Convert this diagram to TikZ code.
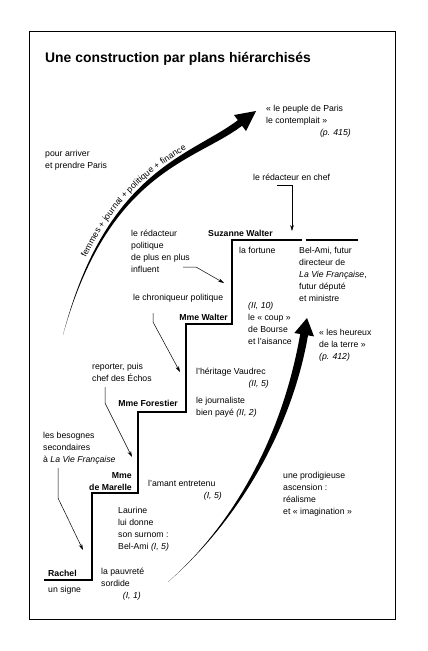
\documentclass[tikz,border=0pt]{standalone}
\usepackage{fontspec}
\setmainfont{Liberation Sans}
\usetikzlibrary{arrows.meta,decorations.text}
\begin{document}
\begin{tikzpicture}[x=1pt,y=-1pt,
  txt/.style={font=\fontsize{8.7}{12.2}\selectfont, inner sep=0pt, align=left, anchor=base west},
  txtr/.style={txt, anchor=base east, align=right},
  txtb/.style={txt, font=\fontsize{8.7}{12.2}\selectfont\bfseries},
  stair/.style={line width=1.2pt, line join=miter},
  conn/.style={line width=0.5pt, -{Stealth[length=6pt,width=3.6pt]}},
  bigarrow/.style={fill=black, draw=none}
]
\fill[white] (0,0) rectangle (428,651);
\useasboundingbox (0,0) rectangle (428,651);
\draw[line width=0.8pt] (29,31) rectangle (395,619);

\node[anchor=base west, inner sep=0pt, font=\fontsize{13.9}{16}\selectfont\bfseries] (title) at (45,62) {Une construction par plans hiérarchisés};

% staircase
\draw[stair] (358,240) -- (306,240);
\draw[stair] (302,240) -- (232,240) -- (232,324) -- (186,324) -- (186,412) -- (138,412) -- (138,493) -- (92,493) -- (92,580) -- (44,580);

% top big arrow
\fill[bigarrow] (63,335) .. controls (105.8,170.4) and (189.9,156.2) .. (237.9,120.2)
  -- (234,115) -- (256,111) -- (246,131) -- (242.1,125.8)
  .. controls (194.1,161.8) and (108.6,171.2) .. (63,335) -- cycle;
\path[decorate, decoration={text along path,
   text={|\fontsize{8.7}{10}\selectfont|femmes + journal + politique + finance},
   text align={left indent=80pt}, raise=5pt}]
  (63,335) .. controls (107.2,170.8) and (192,159) .. (240,123);

% bottom big arrow
\fill[bigarrow] (168,582) .. controls (242.8,515.8) and (284.9,422.6) .. (300.2,334.0)
  -- (294.3,333.0) -- (307,318) -- (314.0,336.4) -- (308.0,335.4)
  .. controls (292.7,424.0) and (243.2,516.2) .. (168,582) -- cycle;

% texts (base anchor = last line baseline)
\node[txt] (peuple) at (266,123.2) {« le peuple de Paris\\le contemplait »};
\node[txtr] (p415) at (351,135) {\itshape (p. 415)};
\node[txt] (arriver) at (45,168.2) {pour arriver\\et prendre Paris};
\node[txt] (redchef) at (253,180) {le rédacteur en chef};
\node[txtb] (suzanne) at (208,236) {Suzanne Walter};
\node[txt] (redpol) at (131,272.6) {le rédacteur\\politique\\de plus en plus\\influent};
\node[txt] (fortune) at (239,253) {la fortune};
\node[txt] (belami) at (299,301.8) {Bel-Ami, futur\\directeur de\\\textit{La Vie Française},\\futur député\\et ministre};
\node[txt] (chron) at (133,300) {le chroniqueur politique};
\node[txtb, anchor=base east] (mwalter) at (228,320) {Mme Walter};
\node[txt] (coup) at (248,344.6) {\textit{(II, 10)}\\le « coup »\\de Bourse\\et l'aisance};
\node[txt] (heureux) at (319,359.4) {« les heureux\\de la terre »\\\textit{(p. 412)}};
\node[txt] (vaudrec) at (196,374) {l'héritage Vaudrec};
\node[txtr] (ii5) at (269,386) {\textit{(II, 5)}};
\node[txt] (journ) at (196,415.2) {le journaliste\\bien payé \textit{(II, 2)}};
\node[txt] (reporter) at (92,381.2) {reporter, puis\\chef des Échos};
\node[txtb, anchor=base east] (forestier) at (178,406) {Mme Forestier};
\node[txt] (besognes) at (43,462.4) {les besognes\\secondaires\\à \textit{La Vie Française}};
\node[txtb, anchor=base east, align=right] (marelle) at (132,490.5) {Mme\\de Marelle};
\node[txt] (amant) at (148,486) {l'amant entretenu};
\node[txtr] (i5) at (222,498) {\textit{(I, 5)}};
\node[txt] (prodig) at (283,514.6) {une prodigieuse\\ascension :\\réalisme\\et « imagination »};
\node[txt] (laurine) at (118,549.6) {Laurine\\lui donne\\son surnom :\\Bel-Ami \textit{(I, 5)}};
\node[txtb] (rachel) at (48,576) {Rachel};
\node[txt] (signe) at (48,592) {un signe};
\node[txt] (pauvrete) at (101,586.2) {la pauvreté\\sordide};
\node[txtr] (i1) at (141,598) {\textit{(I, 1)}};

% connectors
\coordinate (rc-s) at (277,185);
\coordinate (rc-t) at (292,231);
\draw[conn] (rc-s) -| (rc-t);
\coordinate (rp-s) at (183,267);
\coordinate (rp-m) at (196,267);
\coordinate (rp-t) at (224,283);
\draw[conn] (rp-s) -- (rp-m) -- (rp-t);
\coordinate (ch-s) at (153,313);
\coordinate (ch-m) at (153,322);
\coordinate (ch-t) at (180,372);
\draw[conn] (ch-s) -- (ch-m) -- (ch-t);
\coordinate (re-s) at (105,387);
\coordinate (re-m) at (105,403);
\coordinate (re-t) at (132,457);
\draw[conn] (re-s) -- (re-m) -- (re-t);
\coordinate (be-s) at (58,468);
\coordinate (be-m) at (58,498);
\coordinate (be-t) at (83,550);
\draw[conn] (be-s) -- (be-m) -- (be-t);
\end{tikzpicture}
\end{document}
